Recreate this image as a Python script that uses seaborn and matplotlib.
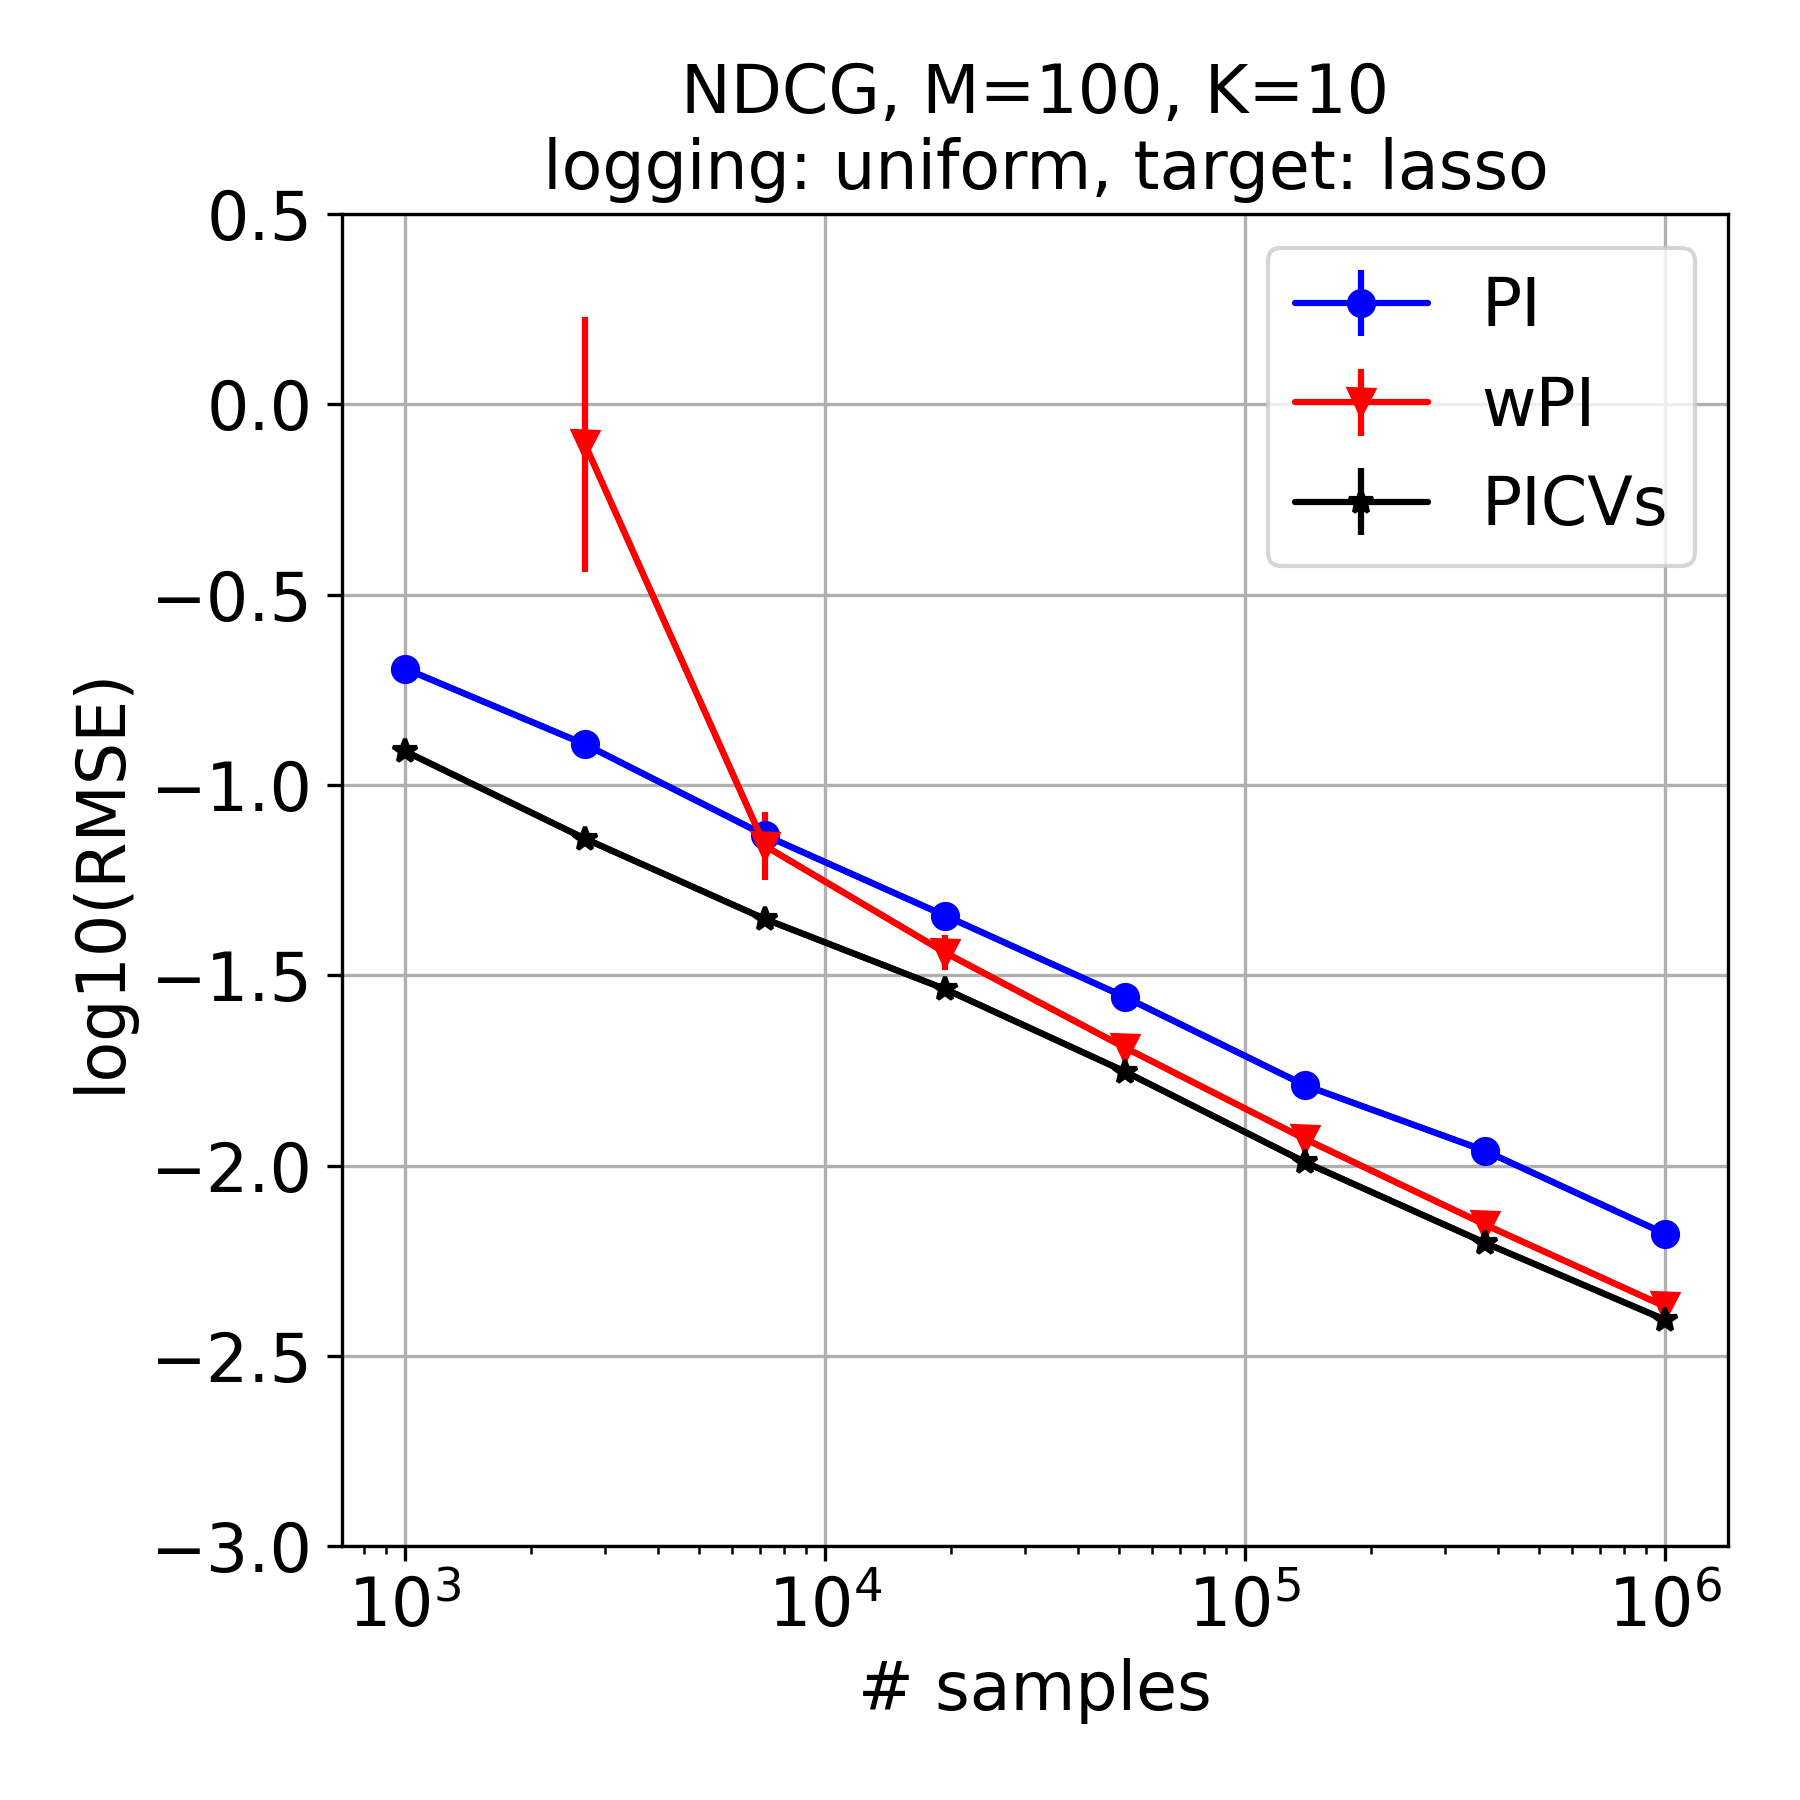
import numpy as np
import pandas as pd
import seaborn as sns
import matplotlib.pyplot as plt

# sample sizes (log-spaced from 1e3 to 1e6)
n_samples = [1000, 2683, 7197, 19307, 51795, 138950, 372759, 1000000]

# log10(RMSE) per estimator
pi_vals = [-0.694, -0.893, -1.132, -1.343, -1.557, -1.789, -1.961, -2.179]
pi_err = [0.012, 0.012, 0.015, 0.012, 0.012, 0.015, 0.012, 0.010]
wpi_vals = [-0.105, -1.160, -1.440, -1.690, -1.930, -2.155, -2.370]
wpi_x = [2683, 7197, 19307, 51795, 138950, 372759, 1000000]
wpi_err = [0.335, 0.090, 0.045, 0.015, 0.012, 0.010, 0.008]
picv_vals = [-0.911, -1.141, -1.352, -1.536, -1.753, -1.991, -2.203, -2.405]
picv_err = [0.015, 0.015, 0.015, 0.012, 0.012, 0.010, 0.010, 0.008]

sns.set_style("ticks")
plt.rcParams['font.family'] = ['DejaVu Sans']
plt.rcParams['font.size'] = 16
for k in ['text.color', 'axes.labelcolor', 'xtick.color', 'ytick.color']:
    plt.rcParams[k] = 'black'

fig, ax = plt.subplots(figsize=(6, 6), dpi=300)
fig.subplots_adjust(left=0.19, right=0.96, top=0.881, bottom=0.141)

df_pi = pd.DataFrame({'n': n_samples, 'v': pi_vals})
df_wpi = pd.DataFrame({'n': wpi_x, 'v': wpi_vals})
df_picv = pd.DataFrame({'n': n_samples, 'v': picv_vals})

sns.lineplot(data=df_pi, x='n', y='v', color='blue', marker='o', markersize=6,
             markeredgewidth=0, linewidth=1.5, legend=False, ax=ax)
sns.lineplot(data=df_wpi, x='n', y='v', color='red', marker='v', markersize=6,
             markeredgewidth=0, linewidth=1.5, legend=False, ax=ax)
sns.lineplot(data=df_picv, x='n', y='v', color='black', marker='*', markersize=6,
             markeredgewidth=0, linewidth=1.5, legend=False, ax=ax)

ax.errorbar(n_samples, pi_vals, yerr=pi_err, fmt='o-', color='blue', label='PI')
ax.errorbar(wpi_x, wpi_vals, yerr=wpi_err, fmt='v-', color='red', label='wPI')
ax.errorbar(n_samples, picv_vals, yerr=picv_err, fmt='*-', color='black', label='PICVs')

ax.set_xscale('log')
ax.set_ylim(-3.0, 0.5)
ax.set_yticks(np.arange(-3.0, 0.51, 0.5))
ax.grid(True, color='#b0b0b0', linewidth=0.8)
ax.set_axisbelow(True)
for s in ax.spines.values():
    s.set_visible(True)
    s.set_color('black')
    s.set_linewidth(0.8)
ax.tick_params(labelsize=16, colors='black')

ax.set_xlabel('# samples', fontsize=16)
ax.set_ylabel('log10(RMSE)', fontsize=16)
ax.set_title('NDCG, M=100, K=10\n logging: uniform, target: lasso', fontsize=16)
ax.legend(loc='upper right', fontsize=16)

fig.savefig('out.png', dpi=300)
